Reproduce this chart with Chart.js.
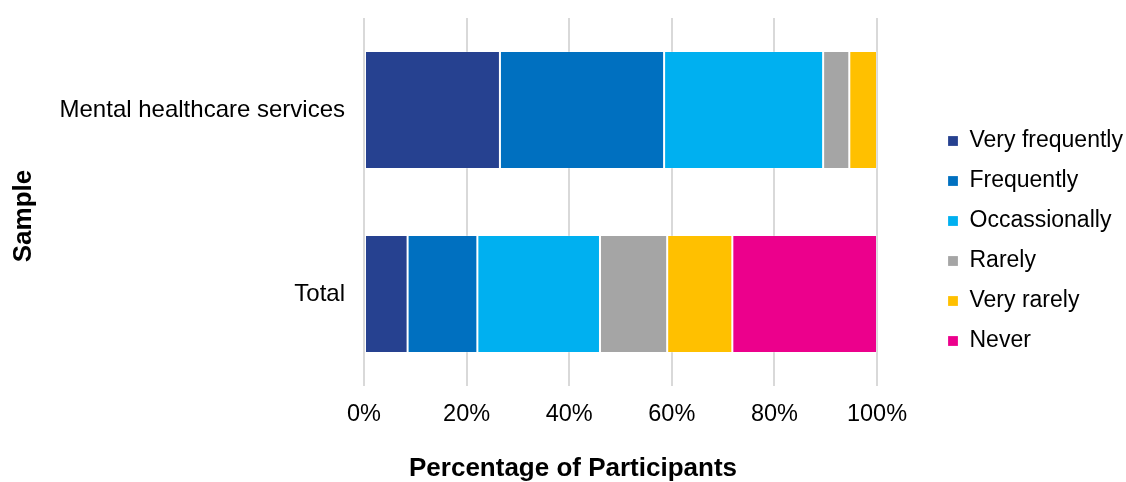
<!DOCTYPE html>
<html>
<head>
<meta charset="utf-8">
<title>Percentage of Participants</title>
<script src="https://cdn.jsdelivr.net/npm/chart.js@4.4.1/dist/chart.umd.min.js"></script>
<style>
    html, body { margin: 0; padding: 0; background: #fff; }
</style>
</head>
<body>
<canvas id="barChart" width="1126" height="482"></canvas>
<script>
// Chart data
const categories = ['Mental healthcare services', 'Total'];
const veryFrequently = [26.5, 8.5];
const frequently = [32.0, 13.6];
const occasionally = [31.0, 23.9];
const rarely = [5.1, 13.1];
const veryRarely = [5.4, 12.7];
const never = [0, 28.2];
const seriesNames = ['Very frequently', 'Frequently', 'Occassionally', 'Rarely', 'Very rarely', 'Never'];
const seriesValues = [veryFrequently, frequently, occasionally, rarely, veryRarely, never];
const seriesColors = ['#264190', '#0070C0', '#00B0F0', '#A5A5A5', '#FFC000', '#EC008C'];
const xTickLabels = ['0%', '20%', '40%', '60%', '80%', '100%'];

const fontFamily = '"Liberation Sans", Arial, Helvetica, sans-serif';

// Axis titles, placed where the original put them
const axisTitles = {
    id: 'axisTitles',
    afterDraw(chart) {
        const ctx = chart.ctx;
        ctx.save();
        ctx.font = 'bold 26px ' + fontFamily;
        ctx.fillStyle = '#000';
        ctx.textAlign = 'center';
        ctx.textBaseline = 'middle';
        ctx.fillText('Percentage of Participants', 573, 469);
        ctx.translate(24, 216);
        ctx.rotate(-Math.PI / 2);
        ctx.fillText('Sample', 0, 0);
        ctx.restore();
    }
};

const ctx = document.getElementById('barChart').getContext('2d');
const barChart = new Chart(ctx, {
    type: 'bar',
    data: {
        labels: categories,
        datasets: seriesNames.map((name, i) => ({
            label: name,
            data: seriesValues[i],
            backgroundColor: seriesColors[i],
            borderColor: 'rgba(255, 255, 255, 0.2)',
            borderWidth: 1,
            borderSkipped: false,
            categoryPercentage: 0.64,
            barPercentage: 1
        }))
    },
    options: {
        indexAxis: 'y',
        responsive: false,
        animation: false,
        layout: {
            padding: 0
        },
        plugins: {
            legend: {
                position: 'right',
                maxWidth: 195,
                labels: {
                    boxWidth: 10,
                    boxHeight: 10,
                    padding: 17,
                    color: '#000',
                    font: { family: fontFamily, size: 23 }
                }
            },
            tooltip: { enabled: false }
        },
        scales: {
            x: {
                stacked: true,
                min: 0,
                max: 100,
                ticks: {
                    stepSize: 20,
                    padding: 14,
                    color: '#000',
                    font: { family: fontFamily, size: 23.5 },
                    callback: (value) => xTickLabels[value / 20]
                },
                grid: {
                    color: '#d9d9d9',
                    lineWidth: 2,
                    drawTicks: false
                },
                border: { display: false },
                afterFit: (scale) => { scale.height = 96; }
            },
            y: {
                stacked: true,
                ticks: {
                    padding: 19,
                    color: '#000',
                    font: { family: fontFamily, size: 24 }
                },
                grid: { display: false, drawTicks: false },
                border: { display: false },
                afterFit: (scale) => {
                    scale.width = 364;
                    scale.paddingTop = 18;
                    scale.paddingBottom = 0;
                }
            },
            gap: {
                type: 'linear',
                axis: 'y',
                position: 'right',
                ticks: { display: false },
                grid: { display: false, drawTicks: false },
                border: { display: false },
                afterFit: (scale) => {
                    scale.width = 54;
                    scale.paddingTop = 0;
                    scale.paddingBottom = 0;
                }
            }
        }
    },
    plugins: [axisTitles]
});
</script>
</body>
</html>
